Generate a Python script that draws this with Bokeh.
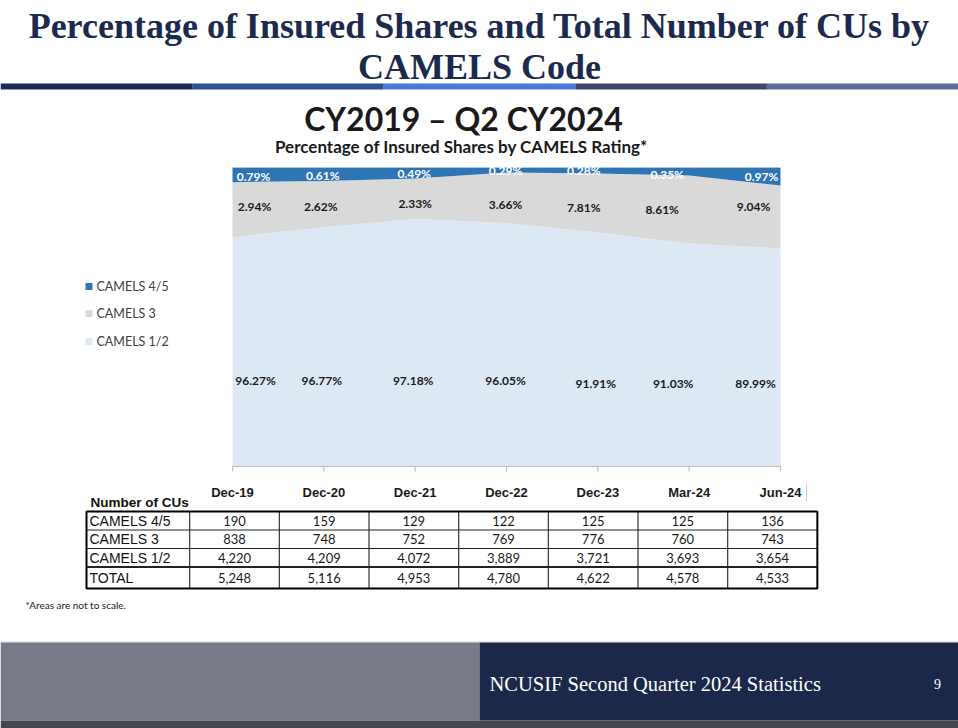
from bokeh.plotting import figure
from bokeh.models import Range1d
from bokeh.embed import file_html
from bokeh.resources import INLINE
from bokeh.core.properties import value

# ---------------- data ----------------
categories = ["Dec-19", "Dec-20", "Dec-21", "Dec-22", "Dec-23", "Mar-24", "Jun-24"]
pct_45 = [0.79, 0.61, 0.49, 0.29, 0.28, 0.35, 0.97]
pct_3 = [2.94, 2.62, 2.33, 3.66, 7.81, 8.61, 9.04]
pct_12 = [96.27, 96.77, 97.18, 96.05, 91.91, 91.03, 89.99]
# the source areas are "not to scale": drawn band heights (% of plot height)
drawn_12 = [76.7, 80.0, 82.8, 81.4, 78.3, 74.6, 72.9]
drawn_3 = [18.4, 15.5, 13.5, 16.9, 19.7, 22.7, 21.1]
drawn_45 = [4.9, 4.5, 3.7, 1.7, 2.0, 2.7, 6.0]
table_rows = ["CAMELS 4/5", "CAMELS 3", "CAMELS 1/2", "TOTAL"]
cu_45 = [190, 159, 129, 122, 125, 125, 136]
cu_3 = [838, 748, 752, 769, 776, 760, 743]
cu_12 = [4220, 4209, 4072, 3889, 3721, 3693, 3654]
cu_total = [5248, 5116, 4953, 4780, 4622, 4578, 4533]
legend_labels = ["CAMELS 4/5", "CAMELS 3", "CAMELS 1/2"]

# ---------------- styles ----------------
C45, C3, C12 = "#2e75b6", "#d9d9d9", "#dde8f5"
NAVY = "#1b2a4d"

# page-pixel canvas
PX_L, PX_R, PY_T, PY_B = 0, 958, 0, 728
p = figure(width=PX_R - PX_L, height=PY_B - PY_T, output_backend="svg", toolbar_location=None,
           x_range=Range1d(PX_L, PX_R), y_range=Range1d(PY_B, PY_T),
           x_axis_type=None, y_axis_type=None, min_border=0)
p.outline_line_color = None
p.background_fill_color = "white"
p.border_fill_color = "white"

n = len(categories)
xs = list(range(n))
# chart scales: category index and percent of plot height
CX0, CX1 = 232, 780          # pixel of first / last category
CY0, CY100 = 466, 167        # pixel of 0% / 100%
step = (CX1 - CX0) / (n - 1)
ppu = (CY0 - CY100) / 100.0
TX0, TSTEP = 234, 89.67      # table column centres
p.extra_x_ranges = {
    "cx": Range1d((PX_L - CX0) / step, (PX_R - CX0) / step),
    "tx": Range1d((PX_L - TX0) / TSTEP, (PX_R - TX0) / TSTEP),
}
p.extra_y_ranges = {"py": Range1d((CY0 - PY_B) / ppu, (CY0 - PY_T) / ppu)}

# ---------------- header ----------------
title_font = value("Liberation Serif")
p.text(x=[479], y=[25], text=["Percentage of Insured Shares and Total Number of CUs by"],
       text_font=title_font, text_font_style="bold", text_font_size="36px",
       text_color=NAVY, text_align="center", text_baseline="middle")
p.text(x=[479], y=[66], text=["CAMELS Code"],
       text_font=title_font, text_font_style="bold", text_font_size="36px",
       text_color=NAVY, text_align="center", text_baseline="middle")
stripe_cols = ["#1b2a50", "#2e5094", "#4a7ad9", "#3c4865", "#5c6e9a"]
seg = 958 / 5
p.quad(left=[i * seg for i in range(5)], right=[(i + 1) * seg for i in range(5)],
       top=83, bottom=89, fill_color=stripe_cols, line_color=None)

p.text(x=[463], y=[118], text=["CY2019 \u2013 Q2 CY2024"], text_font=value("Lato"),
       text_font_style="bold", text_font_size="32px", text_color="#1a1a1a",
       text_align="center", text_baseline="middle")

# ---------------- areas ----------------
top12 = drawn_12
top3 = [a + b for a, b in zip(drawn_12, drawn_3)]
top45 = [a + b for a, b in zip(top3, drawn_45)]
p.varea(x=xs, y1=[0] * n, y2=top12, fill_color=C12, x_range_name="cx", y_range_name="py")
p.varea(x=xs, y1=top12, y2=top3, fill_color=C3, x_range_name="cx", y_range_name="py")
p.varea(x=xs, y1=top3, y2=top45, fill_color=C45, x_range_name="cx", y_range_name="py")

lab_font = value("Lato")
off45 = [21, -1, -1, -1, -14, -22, -19]
off3 = [22, -3, 0, -1, -14, -27, -27]
off12 = [23, -2, -2, -1, -2, -16, -25]
y45 = [176, 175, 173, 170, 170, 174, 176]
y3 = [206, 206, 203, 204, 207, 209, 206]
y12 = [380, 380, 380, 380, 383, 383, 383]
p.text(x=xs, y=y45, text=[f"{v:.2f}%" for v in pct_45], x_offset=off45, x_range_name="cx",
       text_font=lab_font, text_font_style="bold", text_font_size="12px", text_color="white",
       text_align="center", text_baseline="middle")
p.text(x=xs, y=y3, text=[f"{v:.2f}%" for v in pct_3], x_offset=off3, x_range_name="cx",
       text_font=lab_font, text_font_style="bold", text_font_size="12px", text_color="#1a1a1a",
       text_align="center", text_baseline="middle")
p.text(x=xs, y=y12, text=[f"{v:.2f}%" for v in pct_12], x_offset=off12, x_range_name="cx",
       text_font=lab_font, text_font_style="bold", text_font_size="12px", text_color="#1a1a1a",
       text_align="center", text_baseline="middle")

# clip above plot area
p.quad(left=[222], right=[800], top=[155], bottom=[CY100 - 0.3], fill_color="white", line_color=None)
p.text(x=[461], y=[146], text=["Percentage of Insured Shares by CAMELS Rating*"],
       text_font=value("Lato"), text_font_style="bold", text_font_size="17px",
       text_color="#1a1a1a", text_align="center", text_baseline="middle")

# axis
p.segment(x0=[0], y0=[0], x1=[n - 1], y1=[0], line_color="#bfbfbf", line_width=1.2,
          x_range_name="cx", y_range_name="py")
p.segment(x0=xs, y0=[0] * n, x1=xs, y1=[-5 / ppu] * n, line_color="#bfbfbf", line_width=1.2,
          x_range_name="cx", y_range_name="py")
p.text(x=xs, y=[492] * n, text=categories, x_range_name="cx",
       text_font=value("Liberation Sans"), text_font_style="bold", text_font_size="13px",
       text_color="#1a1a1a", text_align="center", text_baseline="middle")
p.segment(x0=[806], y0=[483], x1=[806], y1=[501], line_color="#d0d0d0", line_width=1)

# legend
leg_y = [286, 313, 341]
p.quad(left=[85] * 3, right=[92] * 3, top=[y - 3.5 for y in leg_y], bottom=[y + 3.5 for y in leg_y],
       fill_color=[C45, C3, C12], line_color=None)
p.text(x=[96] * 3, y=leg_y, text=legend_labels, text_font=value("Lato"), text_font_size="12.5px",
       text_color="#404040", text_align="left", text_baseline="middle")

# ---------------- table ----------------
p.text(x=[90], y=[502], text=["Number of CUs"], text_font=value("Liberation Sans"),
       text_font_style="bold", text_font_size="13.5px", text_color="#111111",
       text_align="left", text_baseline="middle")
T_TOP, T_BOT, T_LEFT = 511, 588, 86
row_y = [520, 538.5, 557, 577]
p.segment(x0=[j + 0.5 for j in range(-1, n - 1)], y0=[T_TOP] * n,
          x1=[j + 0.5 for j in range(-1, n - 1)], y1=[T_BOT] * n,
          line_color="#333333", line_width=1.2, x_range_name="tx")
rx1 = (n - 0.5) * TSTEP + TX0
p.segment(x0=[T_LEFT] * 3, y0=[529.5, 548, 566.5], x1=[rx1] * 3, y1=[529.5, 548, 566.5],
          line_color="#222222", line_width=[1.2, 1.2, 2])
p.quad(left=[T_LEFT], right=[rx1], top=[T_TOP], bottom=[T_BOT], fill_color=None,
       line_color="black", line_width=2)
p.text(x=[89] * 4, y=row_y, text=table_rows, text_font=value("Liberation Sans"),
       text_font_size="14px", text_color="#111111", text_align="left", text_baseline="middle")
for vals, ry in zip([cu_45, cu_3, cu_12, cu_total], row_y):
    p.text(x=xs, y=[ry] * n, text=[f"{v:,}" for v in vals], x_range_name="tx",
           text_font=value("Lato"), text_font_size="13px", text_color="#1a1a1a",
           text_align="center", text_baseline="middle")

p.text(x=[25], y=[604], text=["*Areas are not to scale."], text_font=value("Lato"),
       text_font_size="10px", text_color="#1a1a1a", text_align="left", text_baseline="middle")

# ---------------- footer ----------------
p.segment(x0=[0], y0=[641.5], x1=[958], y1=[641.5], line_color="#cfd2d8", line_width=1)
p.quad(left=[0, 479], right=[479, 958], top=[642, 642], bottom=[720, 720],
       fill_color=["#777b87", "#1b284a"], line_color=None)
p.quad(left=[0], right=[958], top=[720], bottom=[728], fill_color="#44474e", line_color=None)
p.text(x=[489], y=[683], text=["NCUSIF Second Quarter 2024 Statistics"],
       text_font=value("Liberation Serif"), text_font_size="20.5px", text_color="white",
       text_align="left", text_baseline="middle")
p.text(x=[937], y=[683], text=["9"], text_font=value("Liberation Serif"), text_font_size="14px",
       text_color="white", text_align="center", text_baseline="middle")

open("out.html", "w").write(file_html(p, INLINE))
